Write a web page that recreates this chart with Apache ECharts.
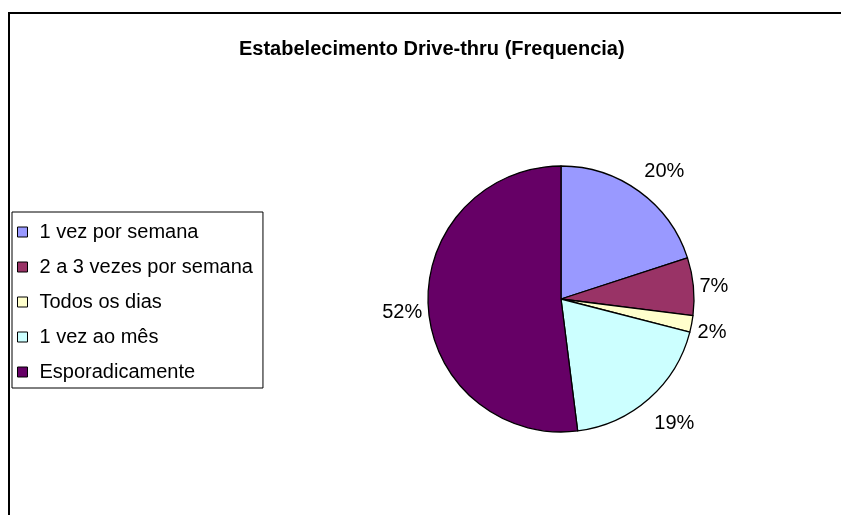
<!DOCTYPE html>
<html>
<head>
<meta charset="utf-8">
<script src="https://cdn.jsdelivr.net/npm/echarts@6/dist/echarts.min.js"></script>
<style>
  html, body { margin: 0; padding: 0; background: #fff; }
  #chart { width: 841px; height: 515px; }
</style>
</head>
<body>
<div id="chart"></div>
<script>
// Frequência de uso do drive-thru (percentuais)
const categories = ['1 vez por semana', '2 a 3 vezes por semana', 'Todos os dias', '1 vez ao mês', 'Esporadicamente']
const values = [20, 7, 2, 19, 52]
const colors = ['#9999FF', '#993366', '#FFFFCC', '#CCFFFF', '#660066']

const chart = echarts.init(document.getElementById('chart'))
const font = 'Arial, "Liberation Sans", sans-serif'
const pieCenter = [561, 299]

chart.setOption({
  animation: false,
  color: colors,
  title: {
    text: 'Estabelecimento Drive-thru (Frequencia)',
    left: 234,
    top: 34,
    textStyle: { color: '#000', fontSize: 20, fontWeight: 'bold', fontFamily: font }
  },
  graphic: [
    {
      type: 'rect',
      shape: { x: 9, y: 13, width: 900, height: 600 },
      style: { fill: 'none', stroke: '#000', lineWidth: 2 }
    }
  ],
  legend: {
    orient: 'vertical',
    left: 12,
    top: 212,
    padding: [10, 10, 6, 5],
    itemGap: 15,
    itemWidth: 10,
    itemHeight: 10,
    icon: 'rect',
    borderColor: '#000',
    borderWidth: 1,
    backgroundColor: '#fff',
    itemStyle: { borderColor: '#000', borderWidth: 1 },
    textStyle: { color: '#000', fontSize: 20, fontFamily: font, padding: [0, 0, 0, 7] },
    data: categories
  },
  series: [
    {
      type: 'pie',
      center: pieCenter,
      radius: 133,
      startAngle: 90,
      clockwise: true,
      avoidLabelOverlap: false,
      itemStyle: { borderColor: '#000', borderWidth: 1.3 },
      label: {
        show: true,
        position: 'outside',
        formatter: '{d}%',
        color: '#000',
        fontSize: 20,
        fontFamily: font,
        distanceToLabelLine: 4
      },
      labelLine: { show: false, length: 2, length2: 0 },
      // empurra rótulos de cima/baixo para fora, como no Excel
      labelLayout: (p) => {
        const r = p.labelRect
        const vx = r.x + r.width / 2 - pieCenter[0]
        const vy = r.y + r.height / 2 - pieCenter[1]
        const len = Math.sqrt(vx * vx + vy * vy) || 1
        return { dy: (vy / len) * 30 + 3 }
      },
      emphasis: { disabled: true },
      data: categories.map((name, i) => ({ name, value: values[i] }))
    }
  ]
})
</script>
</body>
</html>
